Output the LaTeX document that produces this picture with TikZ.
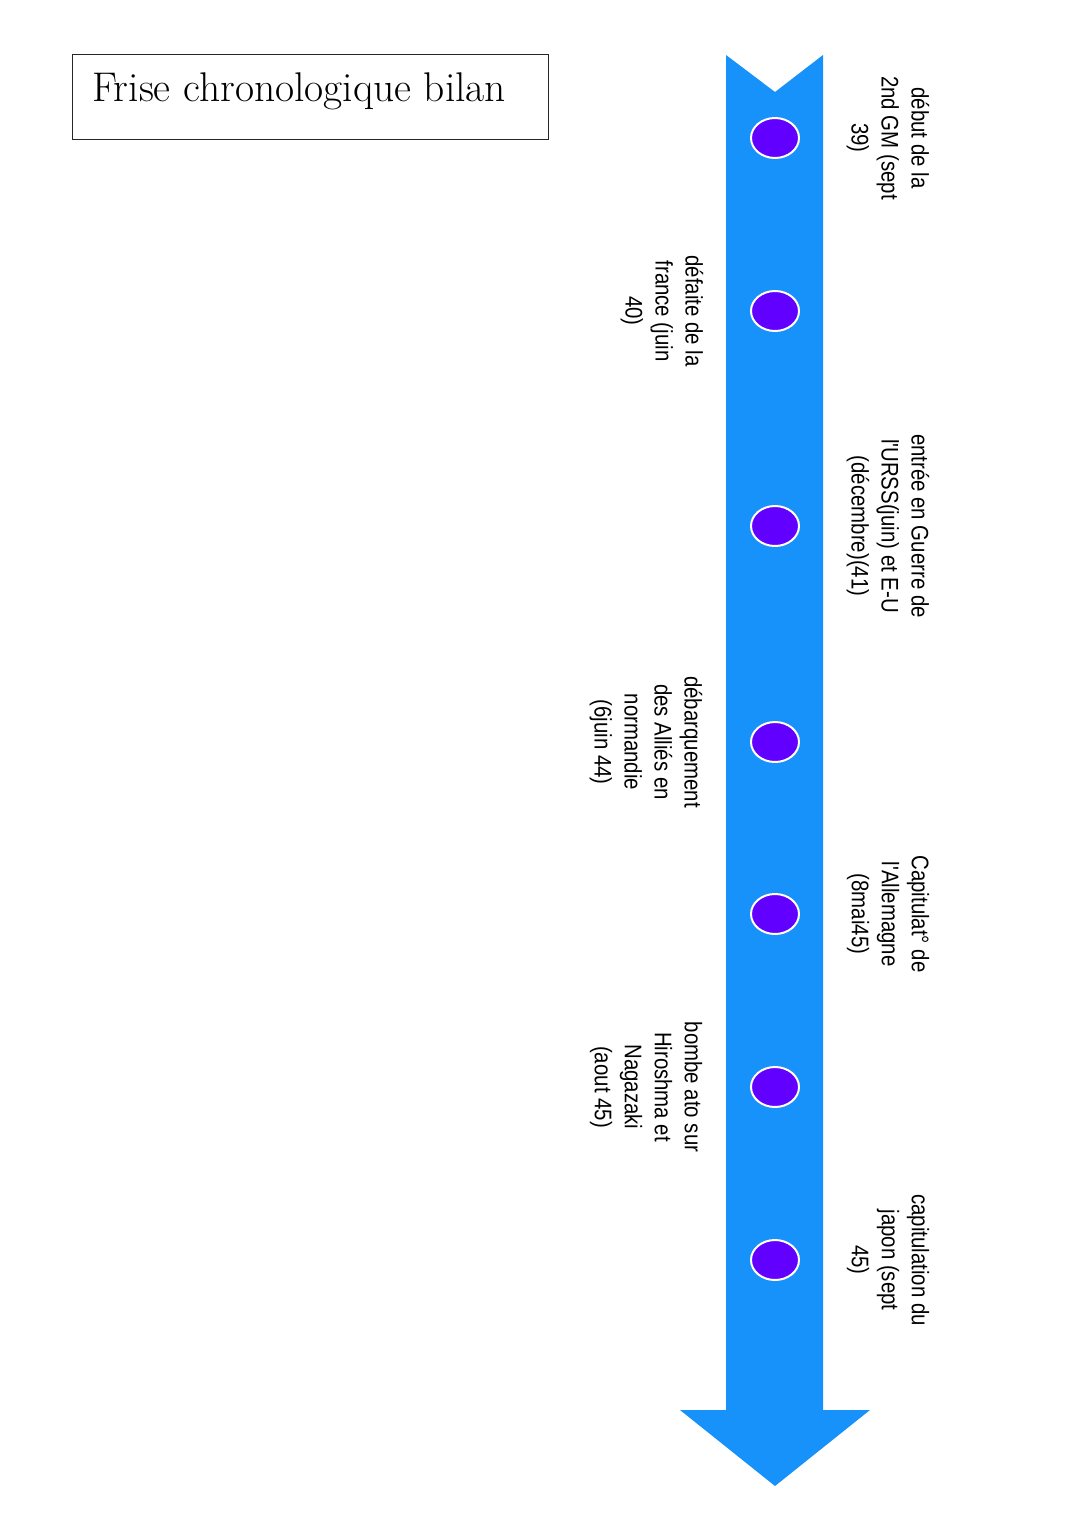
\documentclass[tikz,border=0pt]{standalone}
\usepackage{fontspec}
\usetikzlibrary{shapes.geometric}
\newfontfamily\hand[FakeStretch=0.85]{Liberation Sans}
\definecolor{flow}{RGB}{22,146,250}
\definecolor{dotc}{RGB}{98,0,255}
\tikzset{
  dotnode/.style={ellipse, fill=dotc, draw=white, line width=2pt, minimum width=48pt, minimum height=40pt, inner sep=0pt},
  evlabel/.style={rotate=-90, align=center, font=\hand\fontsize{24}{30}\selectfont, inner sep=0pt},
  titlebox/.style={draw=black!85, line width=1pt, minimum width=476pt, minimum height=85pt, anchor=north west}
}
\begin{document}
\begin{tikzpicture}[x=1pt,y=-1pt]
\useasboundingbox[fill=white] (0,0) rectangle (1080,1534);
% title
\node[titlebox] (tb) at (72,54) {};
\node[anchor=base west, font=\fontsize{41.5}{44}\selectfont, inner sep=0pt] (title) at (92,101) {Frise chronologique bilan};
% arrow
\fill[flow] (726,55) -- (775,92) -- (823,55) -- (823,1410) -- (870,1410) -- (775,1486) -- (680,1410) -- (726,1410) -- cycle;
% dots
\node[dotnode] (e1) at (775,138) {};
\node[dotnode] (e2) at (775,311) {};
\node[dotnode] (e3) at (775,526) {};
\node[dotnode] (e4) at (775,742) {};
\node[dotnode] (e5) at (775,914) {};
\node[dotnode] (e6) at (775,1087) {};
\node[dotnode] (e7) at (775,1260) {};
% labels
\node[evlabel] (l1) at (888,138) {début de la\\2nd GM (sept\\39)};
\node[evlabel] (l2) at (662,311) {défaite de la\\france (juin\\40)};
\node[evlabel] (l3) at (888,526) {entrée en Guerre de\\l'URSS(juin) et E-U\\(décembre)(41)};
\node[evlabel] (l4) at (646,742) {débarquement\\des Alliés en\\normandie\\(6juin 44)};
\node[evlabel] (l5) at (888,914) {Capitulat° de\\l'Allemagne\\(8mai45)};
\node[evlabel] (l6) at (646,1087) {bombe ato sur\\Hiroshma et\\Nagazaki\\(aout 45)};
\node[evlabel] (l7) at (888,1260) {capitulation du\\japon (sept\\45)};
\end{tikzpicture}
\end{document}
